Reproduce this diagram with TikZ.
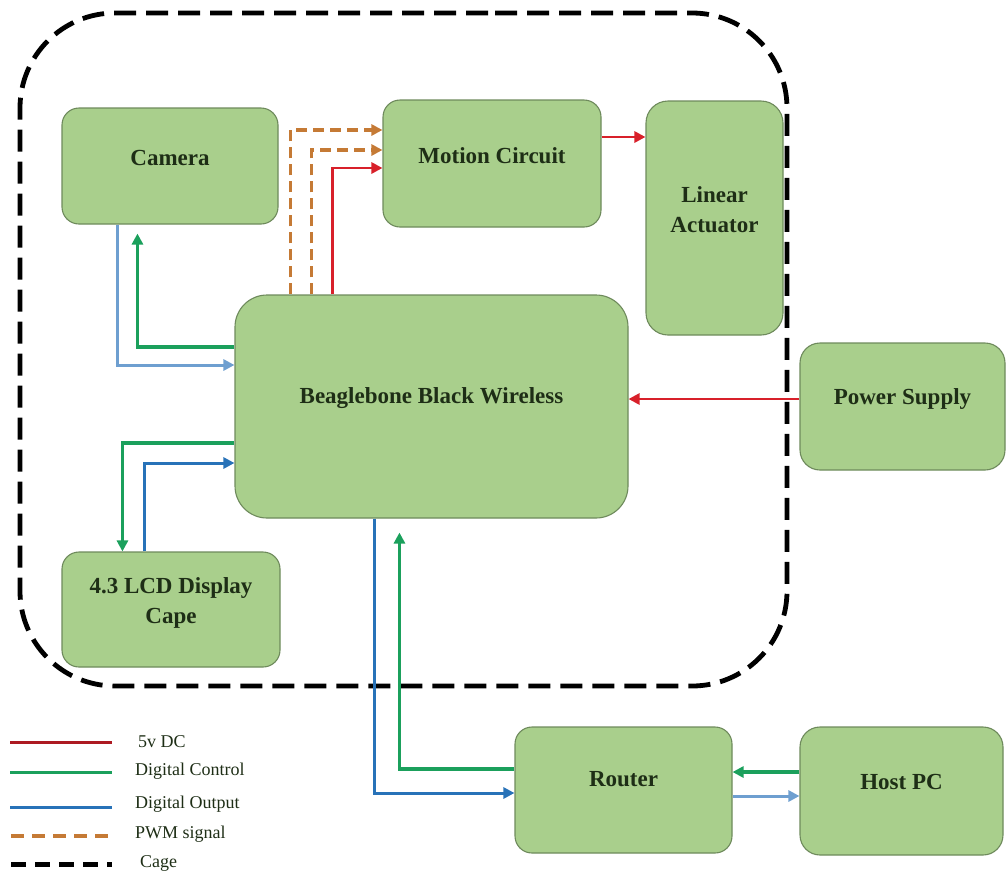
\documentclass[tikz,border=0pt]{standalone}
\usepackage{fontspec}
\setmainfont{Liberation Serif}
\usetikzlibrary{arrows.meta}
\definecolor{boxfill}{HTML}{A9CF8C}
\definecolor{boxline}{HTML}{6E8A5C}
\definecolor{txt}{HTML}{1E2E16}
\definecolor{cred}{HTML}{D8202A}
\definecolor{cgreen}{HTML}{1BA05C}
\definecolor{cblue}{HTML}{2872B8}
\definecolor{clblue}{HTML}{6E9FD0}
\definecolor{corange}{HTML}{C57A35}
\tikzset{
  box/.style={draw=boxline, fill=boxfill, line width=1.1pt, rounded corners=17pt, inner sep=0pt},
  boxtext/.style={text=txt, font=\fontsize{23}{30}\selectfont\bfseries, align=center},
  arr/.style={-{Triangle[length=11pt,width=11pt]}},
  wred/.style={arr, draw=cred, line width=2.8pt},
  wgreen/.style={arr, draw=cgreen, line width=3.8pt},
  wblue/.style={arr, draw=cblue, line width=3pt},
  wlblue/.style={arr, draw=clblue, line width=3pt},
  wpwm/.style={arr, draw=corange, line width=3.6pt, dash pattern=on 11pt off 6pt},
  cageline/.style={draw=black, line width=4.8pt, dash pattern=on 22pt off 10pt},
  legtext/.style={text=txt, font=\fontsize{18}{20}\selectfont, anchor=west, inner sep=0pt},
}
\begin{document}
\begin{tikzpicture}[x=1pt, y=-1pt]
\useasboundingbox (0,0) rectangle (1008,873);

% cage
\draw[cageline, rounded corners=95pt] (400,13) -- (787,13) -- (787,686) -- (20,686) -- (20,13) -- cycle;

% boxes
\node[box, minimum width=216pt, minimum height=116pt,
  label={[boxtext,yshift=8pt]center:Camera}] (cam) at (170,166) {};
\node[box, minimum width=218pt, minimum height=127pt,
  label={[boxtext,yshift=8pt]center:Motion Circuit}] (mot) at (492,163.5) {};
\node[box, minimum width=137pt, minimum height=234pt, rounded corners=22pt,
  label={[boxtext,yshift=8pt]center:Linear\\Actuator}] (lin) at (714.5,218) {};
\node[box, minimum width=393pt, minimum height=223pt, rounded corners=32pt,
  label={[boxtext,yshift=8pt]center:Beaglebone Black Wireless}] (bbb) at (431.5,406.5) {};
\node[box, minimum width=205pt, minimum height=127pt, rounded corners=20pt,
  label={[boxtext,yshift=8pt]center:Power Supply}] (pow) at (902.5,406.5) {};
\node[box, minimum width=218pt, minimum height=115pt,
  label={[boxtext,yshift=7pt]center:4.3 LCD Display\\Cape}] (lcd) at (171,609.5) {};
\node[box, minimum width=217pt, minimum height=126pt,
  label={[boxtext,yshift=11pt]center:Router}] (rou) at (623.5,790) {};
\node[box, minimum width=203pt, minimum height=128pt, rounded corners=20pt,
  label={[boxtext,yshift=9pt]center:Host PC}] (host) at (901.5,791) {};

% camera <-> beaglebone
\draw[wlblue] ([xshift=56pt]cam.south west) |- ([yshift=41.5pt]bbb.west);
\draw[wgreen] ([yshift=59.5pt]bbb.west) -| ([xshift=76pt,yshift=-9pt]cam.south west);

% beaglebone -> motion circuit
\draw[wpwm] ([xshift=56pt]bbb.north west) |- ([yshift=33.5pt]mot.west);
\draw[wpwm] ([xshift=77pt]bbb.north west) |- ([yshift=13.5pt]mot.west);
\draw[wred] ([xshift=98pt]bbb.north west) |- ([yshift=-4.5pt]mot.west);

% motion -> linear actuator
\draw[wred] ([yshift=26.5pt]mot.east) -- ([yshift=81pt]lin.west);

% power -> beaglebone
\draw[wred] ([yshift=7.5pt]pow.west) -- ([yshift=7.5pt]bbb.east);

% beaglebone <-> LCD
\draw[wgreen] ([yshift=-36.5pt]bbb.west) -| ([xshift=61pt]lcd.north west);
\draw[wblue] ([xshift=83pt]lcd.north west) |- ([yshift=-56.5pt]bbb.west);

% beaglebone <-> router
\draw[wblue] ([xshift=140pt]bbb.south west) |- ([yshift=-3pt]rou.west);
\draw[wgreen] ([yshift=21pt]rou.west) -| ([xshift=165pt,yshift=-14pt]bbb.south west);

% router <-> host
\draw[wgreen] ([yshift=19pt]host.west) -- ([yshift=18pt]rou.east);
\draw[wlblue] ([yshift=-6pt]rou.east) -- ([yshift=-5pt]host.west);

% legend
\draw[draw=cred!80!black, line width=3pt] (10,742) -- (112,742);
\draw[draw=cgreen, line width=3pt] (10,772) -- (112,772);
\draw[draw=cblue, line width=3pt] (10,807) -- (112,807);
\draw[draw=corange, line width=4pt, dash pattern=on 13pt off 8pt] (11,836) -- (112,836);
\draw[draw=black, line width=5pt, dash pattern=on 15pt off 9pt] (11,864) -- (112,864);
\node[legtext] (l1) at (138,742) {5v DC};
\node[legtext] (l2) at (135,771) {Digital Control};
\node[legtext] (l3) at (135,804) {Digital Output};
\node[legtext] (l4) at (135,834) {PWM signal};
\node[legtext] (l5) at (140,863) {Cage};
\end{tikzpicture}
\end{document}
